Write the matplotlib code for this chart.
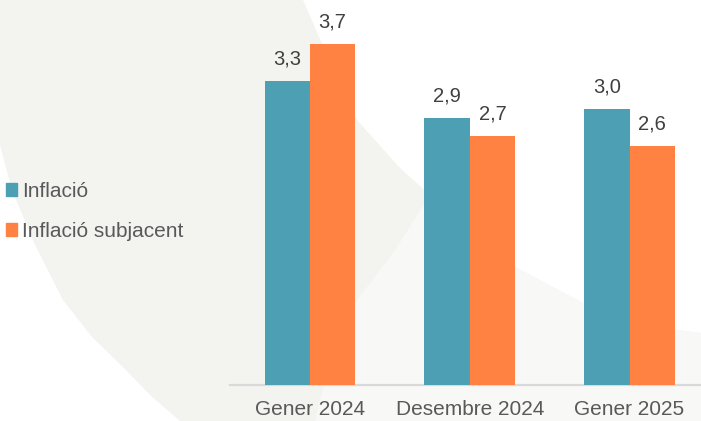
import numpy as np
import matplotlib
matplotlib.use("Agg")
import matplotlib.pyplot as plt
from matplotlib.patches import Polygon, Patch

plt.rcParams['font.family'] = ['Liberation Sans', 'DejaVu Sans']

# data
categories = ["Gener 2024", "Desembre 2024", "Gener 2025"]
inflacio = [3.3, 2.9, 3.0]
subjacent = [3.7, 2.7, 2.6]
series_names = ["Inflació", "Inflació subjacent"]

teal = "#4DA0B3"
orange = "#FF8243"
W, H = 701, 421

fig = plt.figure(figsize=(W / 100, H / 100), dpi=100)
fig.patch.set_facecolor("white")


def to_fig(p):
    return [(x / W, 1 - y / H) for x, y in p]


# background crescent (pixel coords, y from top)
outer = [(0, 145), (12, 190), (35, 245), (63, 300), (92, 337), (123, 367), (150, 395), (180, 421)]
inner = [(701, 333), (677, 330), (600, 312), (583, 303), (517, 268), (450, 213), (400, 168), (357, 120), (330, 62), (303, 0)]
pts = [(0, 0)] + outer + [(W, H)] + inner
fig.patches.append(Polygon(to_fig(pts), closed=True, transform=fig.transFigure,
                           facecolor="#F3F4F0", edgecolor="none", zorder=-10))
# lighter lower-right part of the crescent
light = [(430, 195), (395, 250), (357, 300), (330, 360), (315, 421), (W, H),
         (701, 333), (677, 330), (600, 312), (583, 303), (517, 268), (450, 213)]
fig.patches.append(Polygon(to_fig(light), closed=True, transform=fig.transFigure,
                           facecolor="#F8F9F6", edgecolor="none", zorder=-9))

ax = fig.add_axes([230 / W, 36 / H, 471 / W, 385 / H])
ax.patch.set_visible(False)
ax.set_zorder(5)

x = np.arange(len(categories))
w = 0.284
b1 = ax.bar(x - w / 2, inflacio, w, color=teal, label=series_names[0], zorder=3)
b2 = ax.bar(x + w / 2, subjacent, w, color=orange, label=series_names[1], zorder=3)

for bars, vals in ((b1, inflacio), (b2, subjacent)):
    for rect, v in zip(bars, vals):
        ax.annotate(f"{v:.1f}".replace(".", ","),
                    (rect.get_x() + rect.get_width() / 2, rect.get_height()),
                    xytext=(0, 9), textcoords="offset points",
                    ha="center", va="bottom", fontsize=14.5, color="#404040")

ax.set_xlim(-0.5, 2.447)
ax.set_ylim(0, 4.18)
ax.set_xticks(x)
ax.set_xticklabels(categories, fontsize=15, color="#595959")
ax.tick_params(axis="x", length=0, pad=11)
ax.set_yticks([])
for s in ("top", "right", "left"):
    ax.spines[s].set_visible(False)
ax.spines["bottom"].set_color("#D9D9D9")
ax.spines["bottom"].set_linewidth(1.6)

handles = [Patch(color=teal), Patch(color=orange)]
leg = fig.legend(handles, series_names, loc="upper left",
                 bbox_to_anchor=(6 / W, 1 - 182 / H), frameon=False,
                 fontsize=15, labelcolor="#595959", handlelength=0.55,
                 handleheight=0.55, handletextpad=0.2, labelspacing=1.0,
                 borderpad=0, borderaxespad=0)
leg.set_zorder(6)

fig.savefig("out.png", dpi=100)
